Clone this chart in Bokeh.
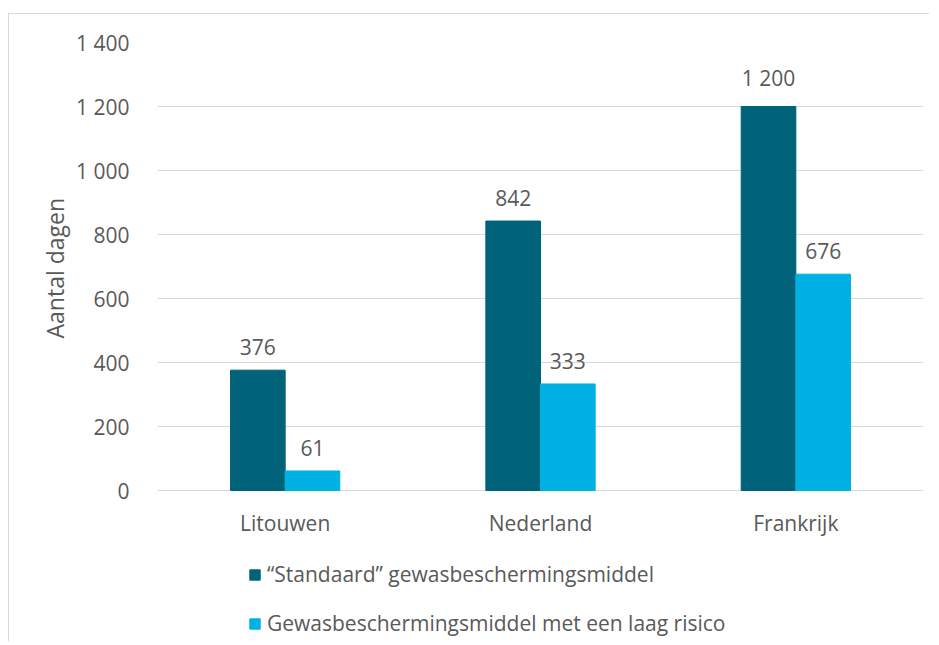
from bokeh.plotting import figure
from bokeh.models import (ColumnDataSource, FactorRange, Range1d, Legend, LegendItem,
                          CustomJSTickFormatter, FixedTicker, Title)
from bokeh.transform import dodge
from bokeh.core.properties import value
from bokeh.embed import file_html
from bokeh.resources import INLINE

categories = ["Litouwen", "Nederland", "Frankrijk"]
standaard = [376, 842, 1200]
laag_risico = [61, 333, 676]
series_names = ["\u201cStandaard\u201d gewasbeschermingsmiddel",
                "Gewasbeschermingsmiddel met een laag risico"]
y_ticks = [0, 200, 400, 600, 800, 1000, 1200, 1400]
y_title = "Aantal dagen"

FONT = "Open Sans"
GRAY = "#595959"
DARK = "#00637A"
CYAN = "#00B2E3"
FS = "21px"

def fmt(v):
    return f"{v:,}".replace(",", " ")

src = ColumnDataSource(dict(
    cat=categories,
    s1=standaard, s2=laag_risico,
    l1=[fmt(v) for v in standaard], l2=[fmt(v) for v in laag_risico],
))

# frame extends below zero so the legend (drawn inside the frame) stays visible
Y_MAX = 1400
PX_PER_UNIT = 0.32
EXTRA_PX = 147
p = figure(frame_width=766, frame_height=448 + EXTRA_PX, x_range=FactorRange(*categories),
           y_range=Range1d(-EXTRA_PX / PX_PER_UNIT, Y_MAX), output_backend="svg",
           toolbar_location=None,
           min_border_left=157, min_border_right=6, min_border_top=42, min_border_bottom=4)
p.outline_line_color = None
p.background_fill_color = "white"
p.border_fill_color = None
p.styles = {
    "background-color": "white",
    "background-image": "linear-gradient(#d9d9d9, #d9d9d9), linear-gradient(#d9d9d9, #d9d9d9)",
    "background-position": "8px 13px, 8px 13px",
    "background-size": "1px 100%, 100% 1px",
    "background-repeat": "no-repeat, no-repeat",
}

w = 0.214
r1 = p.vbar(x=dodge("cat", -w / 2, range=p.x_range), top="s1", width=w, source=src,
            fill_color=DARK, line_color=DARK)
r2 = p.vbar(x=dodge("cat", w / 2, range=p.x_range), top="s2", width=w, source=src,
            fill_color=CYAN, line_color=CYAN)

for col, lab, off in (("s1", "l1", -w / 2), ("s2", "l2", w / 2)):
    p.text(x=dodge("cat", off, range=p.x_range), y=col, text=lab, source=src,
           text_align="center", text_baseline="bottom", y_offset=-15,
           text_font=value(FONT), text_font_size=FS, text_color=GRAY)

# category labels (x axis) at the zero line
p.text(x="cat", y=0, text="cat", source=src, text_align="center",
       text_baseline="middle", y_offset=32,
       text_font=value(FONT), text_font_size=FS, text_color=GRAY)
p.xaxis.visible = False

# y axis
p.yaxis.ticker = FixedTicker(ticks=y_ticks)
p.yaxis.formatter = CustomJSTickFormatter(
    code="return tick.toString().replace(/\\B(?=(\\d{3})+(?!\\d))/g, ' ');")
p.yaxis.axis_line_color = None
p.yaxis.major_tick_line_color = None
p.yaxis.minor_tick_line_color = None
p.yaxis.major_label_standoff = 22
p.yaxis.major_label_text_font = FONT
p.yaxis.major_label_text_font_size = FS
p.yaxis.major_label_text_color = GRAY

p.add_layout(Title(text=y_title, align="left", offset=299, standoff=6,
                   text_font=FONT, text_font_size="23px", text_font_style="normal",
                   text_color=GRAY), "left")

p.xgrid.grid_line_color = None
p.ygrid.grid_line_color = "#d9d9d9"
p.ygrid.grid_line_width = 1

legend = Legend(items=[LegendItem(label=series_names[0], renderers=[r1]),
                       LegendItem(label=series_names[1], renderers=[r2])],
                location=(91, 0), orientation="vertical",
                glyph_width=13, glyph_height=13, label_height=24, spacing=21,
                label_standoff=6, padding=0, margin=0,
                border_line_alpha=0, background_fill_alpha=0,
                label_text_font=FONT, label_text_font_size=FS,
                label_text_color=GRAY)
p.add_layout(legend, "center")

open("out.html", "w").write(file_html(p, INLINE))
